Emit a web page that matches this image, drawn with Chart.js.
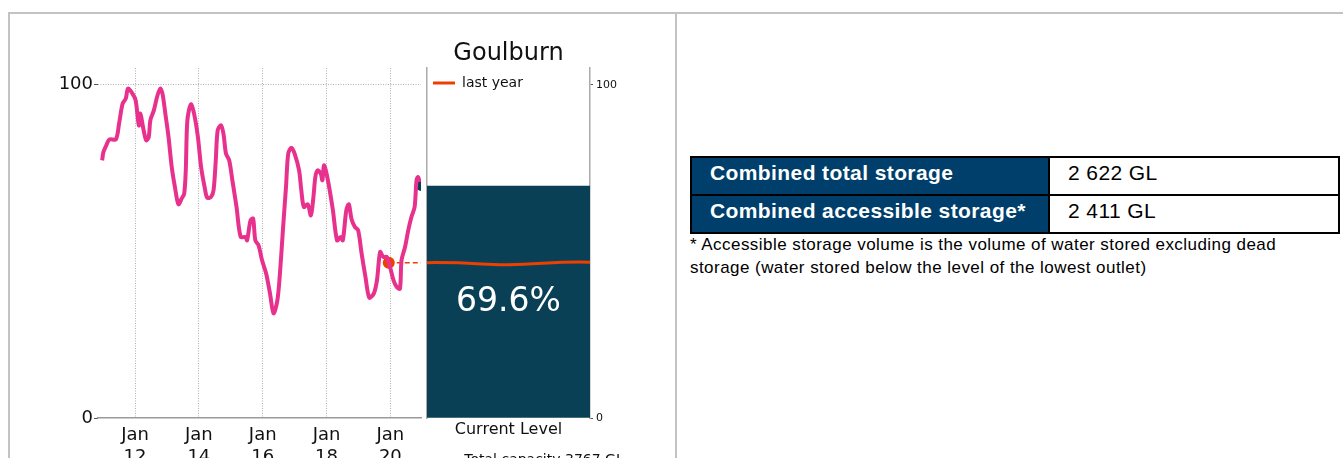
<!doctype html>
<html>
  <head>
    <title>Goulburn storage</title>
    <script src="https://cdn.jsdelivr.net/npm/chart.js@4.4.0/dist/chart.umd.min.js"></script>
    <style>
      body { margin: 0; width: 1343px; height: 458px; overflow: hidden; background: #fff; position: relative; }
      .rule { position: absolute; background: #c3c3c3; }
      canvas { position: absolute; top: 0; }
      #history { left: 0; }
      #current { left: 424px; }
      #storage { position: absolute; left: 690px; top: 156px; width: 650px; border-collapse: collapse;
        font-family: "Liberation Sans", Arial, sans-serif; font-size: 21px; letter-spacing: 0.4px; }
      #storage th, #storage td { border: 2px solid #000; height: 30px; padding: 0 0 6px 18px; text-align: left; }
      #storage th { background: #003f6b; color: #fff; font-weight: bold; width: 338px; }
      #storage td { color: #000; font-weight: normal; }
      #note { position: absolute; left: 690px; top: 233px; margin: 0; font-family: "Liberation Sans", Arial, sans-serif;
        font-size: 17px; letter-spacing: 0.45px; line-height: 23px; color: #000; }
    </style>
  </head>
  <body>
    <div class="rule" style="left:8px; top:12px; width:1335px; height:2px"></div>
    <div class="rule" style="left:8px; top:12px; width:2px; height:446px"></div>
    <div class="rule" style="left:675px; top:12px; width:2px; height:446px"></div>

    <canvas id="history" width="427" height="470"></canvas>
    <canvas id="current" width="240" height="470"></canvas>

    <table id="storage"></table>
    <p id="note">* Accessible storage volume is the volume of water stored excluding dead<br>storage (water stored below the level of the lowest outlet)</p>

    <script>
      // storage level, % of capacity
      var levelYears = [
        2010.97, 2011.01, 2011.10, 2011.20, 2011.40, 2011.50, 2011.61, 2011.71, 2011.78, 2011.92,
        2012.02, 2012.12, 2012.17, 2012.25, 2012.35, 2012.43, 2012.48, 2012.59, 2012.69, 2012.79,
        2012.86, 2012.95, 2013.05, 2013.15, 2013.25, 2013.36, 2013.46, 2013.54, 2013.59, 2013.64,
        2013.75, 2013.85, 2013.97, 2014.07, 2014.18, 2014.26, 2014.38, 2014.46, 2014.53, 2014.59,
        2014.69, 2014.77, 2014.85, 2014.95, 2015.05, 2015.18, 2015.31, 2015.46, 2015.51, 2015.62,
        2015.70, 2015.77, 2015.87, 2015.98, 2016.11, 2016.23, 2016.34, 2016.46, 2016.54, 2016.64,
        2016.73, 2016.80, 2016.90, 2017.00, 2017.14, 2017.21, 2017.29, 2017.41, 2017.51, 2017.59,
        2017.65, 2017.72, 2017.82, 2017.87, 2017.92, 2017.99, 2018.10, 2018.20, 2018.33, 2018.44,
        2018.51, 2018.62, 2018.70, 2018.78, 2018.89, 2018.99, 2019.10, 2019.22, 2019.34, 2019.48,
        2019.58, 2019.68, 2019.78, 2019.89, 2019.99, 2020.10, 2020.20, 2020.30, 2020.35, 2020.46,
        2020.56, 2020.66, 2020.76, 2020.82, 2020.87, 2020.92
      ];
      var levelPercent = [
        77.3, 79.8, 81.8, 83.6, 83.6, 88.3, 94.3, 95.8, 98.8, 97.3,
        95.3, 87.8, 91.3, 87.3, 83.3, 84.3, 89.3, 92.3, 96.3, 98.8,
        97.3, 91.3, 84.3, 75.3, 69.3, 64.1, 65.8, 67.3, 74.3, 89.3,
        94.1, 91.3, 84.3, 75.3, 69.3, 66.1, 66.3, 68.3, 77.3, 86.3,
        87.8, 85.3, 79.3, 77.3, 71.3, 63.3, 54.3, 54.3, 53.3, 59.3,
        59.8, 53.3, 51.8, 47.3, 43.3, 37.3, 31.4, 35.3, 43.3, 57.3,
        69.3, 79.3, 81.1, 79.3, 74.3, 68.3, 63.3, 64.1, 60.8, 66.3,
        72.3, 74.3, 73.3, 71.3, 75.8, 73.8, 68.3, 62.3, 53.3, 54.3,
        53.3, 62.3, 64.1, 59.8, 57.3, 56.3, 49.3, 42.3, 36.1, 37.3,
        41.3, 49.8, 48.3, 48.3, 45.3, 41.3, 39.3, 38.8, 47.3, 51.3,
        56.3, 60.3, 63.3, 71.3, 72.3, 70.8
      ];
      var tickYears = [2012, 2014, 2016, 2018, 2020];
      var levelTicks = [0, 100];

      var currentDate = 2020.96;
      var currentLevel = 69.6;
      var lastYearDate = 2019.95;
      var lastYearLevel = 46.6;

      var storageLabels = ["Combined total storage", "Combined accessible storage*"];
      var storageValues = ["2 622 GL", "2 411 GL"];

      var pink = "#e8318c";
      var orange = "#ec4000";
      var navy = "#0a4055";
      var axisGrey = "#9a9a9a";

      Chart.defaults.font.family = "'DejaVu Sans', sans-serif";
      Chart.defaults.color = "#111";

      // table on the right
      var table = document.getElementById("storage");
      storageLabels.forEach(function (label, i) {
        var row = table.insertRow();
        var th = document.createElement("th");
        th.textContent = label;
        row.appendChild(th);
        row.insertCell().textContent = storageValues[i];
      });

      function fixedTicks(values) {
        return function (scale) {
          scale.ticks = values.map(function (v) { return { value: v }; });
        };
      }

      new Chart(document.getElementById("history"), {
        type: "line",
        data: {
          datasets: [
            {
              label: "level",
              data: levelYears.map(function (x, i) { return { x: x, y: levelPercent[i] }; }),
              borderColor: pink,
              borderWidth: 4,
              pointRadius: 0,
              tension: 0.3,
            },
            {
              label: "last year",
              data: [{ x: lastYearDate, y: lastYearLevel }, { x: currentDate, y: lastYearLevel }],
              borderColor: orange,
              backgroundColor: orange,
              borderWidth: 1.5,
              borderDash: [5, 3],
              pointRadius: [6, 0],
              pointBorderWidth: 0,
            },
            {
              label: "current",
              data: [{ x: currentDate, y: currentLevel }],
              showLine: false,
              pointRadius: 5,
              pointBorderWidth: 0,
              pointBackgroundColor: navy,
            },
          ],
        },
        options: {
          animation: false,
          responsive: false,
          layout: { padding: { top: 68, left: 0, right: 0, bottom: 0 } },
          plugins: { legend: { display: false }, tooltip: { enabled: false } },
          scales: {
            x: {
              type: "linear",
              min: 2010.84,
              max: currentDate,
              afterBuildTicks: fixedTicks(tickYears),
              afterFit: function (s) { s.height = 52; },
              grid: { color: "#b0b0b0", lineWidth: 1, drawTicks: false },
              border: { display: true, color: axisGrey, width: 1.5, dash: [1, 1.5] },
              ticks: {
                font: { size: 18 },
                padding: 7,
                maxRotation: 0,
                autoSkip: false,
                callback: function (v) { return ["Jan", String(v).slice(2)]; },
              },
            },
            y: {
              min: 0,
              max: 105,
              afterBuildTicks: fixedTicks(levelTicks),
              afterFit: function (s) { s.width = 98; },
              grid: {
                color: function (c) { return c.tick && c.tick.value === 100 ? "#b0b0b0" : "rgba(0,0,0,0)"; },
                tickColor: "#555",
                tickLength: 4,
                tickBorderDash: [],
              },
              border: { display: false, dash: [1, 1.5] },
              ticks: { font: { size: 18 }, padding: 1 },
            },
          },
        },
      });

      // percentage label and last-year line inside the current level bar
      var currentPlugin = {
        id: "currentPlugin",
        afterLayout: function (chart) {
          // a legend placed in the chart area is given top 0, move it down
          if (chart.legend) {
            chart.legend.top = chart.chartArea.top + 2;
            chart.legend.bottom = chart.chartArea.bottom;
          }
        },
        afterDatasetsDraw: function (chart) {
          var ctx = chart.ctx;
          var area = chart.chartArea;
          var y = chart.scales.y;
          var lastYear = chart.data.datasets[1].data[0];
          var ly = y.getPixelForValue(lastYear);
          ctx.save();
          ctx.strokeStyle = orange;
          ctx.lineWidth = 3;
          ctx.beginPath();
          ctx.moveTo(area.left, ly);
          var w = area.right - area.left;
          ctx.bezierCurveTo(area.left + w * 0.3, ly - 0.5, area.left + w * 0.35, ly + 2.5, area.left + w * 0.5, ly + 2);
          ctx.bezierCurveTo(area.left + w * 0.7, ly + 1.5, area.left + w * 0.8, ly - 1.5, area.right, ly - 0.5);
          ctx.stroke();

          var bar = chart.getDatasetMeta(0).data[0];
          var value = chart.data.datasets[0].data[0];
          ctx.fillStyle = "#fff";
          ctx.font = "33px 'DejaVu Sans'";
          ctx.textAlign = "center";
          ctx.textBaseline = "middle";
          ctx.fillText(value.toFixed(1) + "%", bar.x, (bar.y + bar.base) / 2 + 1);
          ctx.restore();
        },
      };

      new Chart(document.getElementById("current"), {
        type: "bar",
        data: {
          labels: ["Current Level"],
          datasets: [
            {
              label: "Current Level",
              data: [currentLevel],
              backgroundColor: navy,
              barPercentage: 1,
              categoryPercentage: 1,
            },
            {
              type: "line",
              label: "last year",
              data: [lastYearLevel],
              borderColor: orange,
              backgroundColor: orange,
              borderWidth: 0,
              pointRadius: 0,
            },
          ],
        },
        options: {
          animation: false,
          responsive: false,
          layout: { padding: { top: 36.2, left: 0, right: 0, bottom: 1.6 } },
          plugins: {
            tooltip: { enabled: false },
            title: {
              display: true,
              text: "Goulburn",
              fullSize: false,
              font: { size: 24, weight: "normal" },
              color: "#111",
              padding: { top: 3, bottom: 0 },
            },
            subtitle: {
              display: true,
              text: "Total capacity 3767 GL",
              position: "bottom",
              font: { size: 14 },
              color: "#111",
              padding: 0,
            },
            legend: {
              position: "chartArea",
              align: "start",
              labels: {
                filter: function (item) { return item.datasetIndex === 1; },
                boxWidth: 22,
                boxHeight: 3,
                padding: 6,
                font: { size: 14 },
                color: "#111",
              },
            },
          },
          scales: {
            x: {
              grid: { display: false, drawTicks: false },
              border: { display: false },
              ticks: { font: { size: 16 }, padding: 2.5 },
              afterFit: function (s) { s.height = 33.6; },
            },
            y: {
              position: "right",
              min: 0,
              max: 105,
              afterBuildTicks: fixedTicks(levelTicks),
              afterFit: function (s) { s.width = 74; },
              grid: { drawOnChartArea: false, tickLength: 3, tickColor: "#555" },
              border: { color: "#aaa", width: 1.5 },
              ticks: { font: { size: 11 }, padding: 3 },
            },
            yl: {
              position: "left",
              min: 0,
              max: 105,
              ticks: { display: false },
              grid: { display: false },
              border: { color: "#aaa", width: 1.5 },
              afterFit: function (s) { s.width = 3; },
            },
          },
        },
        plugins: [currentPlugin],
      });
    </script>
  </body>
</html>
